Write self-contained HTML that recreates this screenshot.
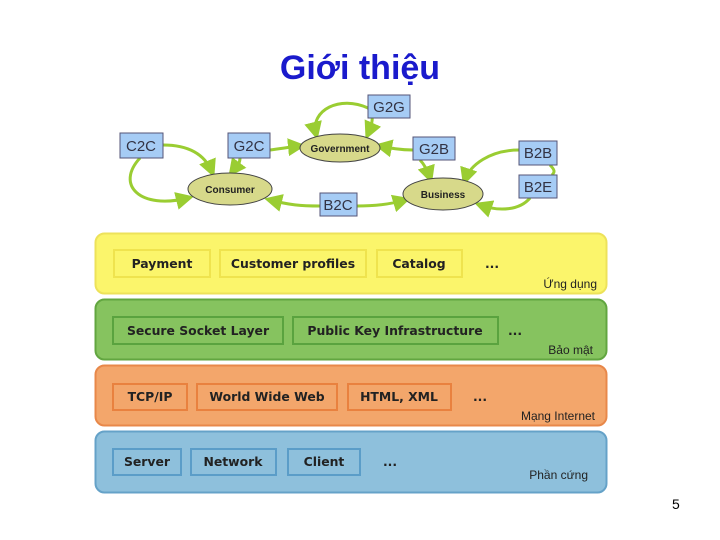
<!DOCTYPE html>
<html><head><meta charset="utf-8"><style>
html,body{margin:0;padding:0;background:#fff;}
svg{display:block;}
.b{font-family:"DejaVu Sans","Liberation Sans",sans-serif;font-weight:bold;font-size:12.4px;fill:#222;}
.s{font-family:"Liberation Sans","DejaVu Sans",sans-serif;font-size:12px;fill:#222;}
.t{font-family:"Liberation Sans",sans-serif;font-size:15px;fill:#334;}
.e{font-family:"Liberation Sans",sans-serif;font-weight:bold;font-size:10px;fill:#222;}
</style></head><body>
<svg width="720" height="540" viewBox="0 0 720 540" xmlns="http://www.w3.org/2000/svg">
<defs><marker id="a" markerWidth="6" markerHeight="6" refX="4" refY="3" orient="auto"><path d="M0,0 L6,3 L0,6z" fill="#9acd32"/></marker></defs>
<text x="360" y="79" text-anchor="middle" font-family="Liberation Sans,sans-serif" font-weight="bold" font-size="34" fill="#1a1acc">Giới thiệu</text>
<g fill="none" stroke="#9acd32" stroke-width="3" marker-end="url(#a)">
<path d="M163,145 C190,145 205,155 212,172"/>
<path d="M140,158 C115,185 140,210 188,198"/>
<path d="M240,158 C240,165 235,168 232,172"/>
<path d="M270,150 C285,148 290,147 300,146"/>
<path d="M368,108 C340,95 310,110 316,134"/>
<path d="M368,108 C375,115 372,125 368,134"/>
<path d="M413,150 C400,150 390,148 380,146"/>
<path d="M420,160 C425,165 428,172 430,178"/>
<path d="M519,150 C490,150 470,165 465,180"/>
<path d="M530,198 C520,210 500,212 480,205"/>
<path d="M320,206 C300,206 290,205 270,200"/>
<path d="M357,206 C380,206 395,203 405,200"/>
</g>
<path d="M550,165 C555,170 555,172 552,175" fill="none" stroke="#9acd32" stroke-width="3"/>
<g fill="#d7d98a" stroke="#444" stroke-width="1">
<ellipse cx="340" cy="148" rx="40" ry="14"/>
<ellipse cx="230" cy="189" rx="42" ry="16"/>
<ellipse cx="443" cy="194" rx="40" ry="16"/>
</g>
<text class="e" x="340" y="152" text-anchor="middle">Government</text>
<text class="e" x="230" y="193" text-anchor="middle">Consumer</text>
<text class="e" x="443" y="198" text-anchor="middle">Business</text>
<g fill="#a6ccf5" stroke="#557" stroke-width="1">
<rect x="368" y="95" width="42" height="23"/>
<rect x="120" y="133" width="43" height="25"/>
<rect x="228" y="133" width="42" height="25"/>
<rect x="413" y="137" width="42" height="23"/>
<rect x="519" y="141" width="38" height="24"/>
<rect x="519" y="175" width="38" height="23"/>
<rect x="320" y="193" width="37" height="23"/>
</g>
<g class="t" text-anchor="middle">
<text x="389" y="112">G2G</text><text x="141" y="151">C2C</text><text x="249" y="151">G2C</text>
<text x="434" y="154">G2B</text><text x="538" y="158">B2B</text><text x="538" y="192">B2E</text><text x="338" y="210">B2C</text>
</g>
<rect x="95.5" y="233.5" width="511" height="60" rx="9" fill="#fbf56b" stroke="#ede25a" stroke-width="2"/>
<rect x="95.5" y="299.5" width="511" height="60" rx="9" fill="#86c35f" stroke="#62a640" stroke-width="2"/>
<rect x="95.5" y="365.5" width="511" height="60" rx="9" fill="#f3a66b" stroke="#e8884a" stroke-width="2"/>
<rect x="95.5" y="431.5" width="511" height="61" rx="9" fill="#8ec0dc" stroke="#65a2c8" stroke-width="2"/>
<g fill="none" stroke-width="2">
<g stroke="#efe34e"><rect x="114" y="250" width="96" height="27"/><rect x="220" y="250" width="146" height="27"/><rect x="377" y="250" width="85" height="27"/></g>
<g stroke="#5aa33f"><rect x="113" y="317" width="170" height="27"/><rect x="293" y="317" width="205" height="27"/></g>
<g stroke="#e9813f"><rect x="113" y="384" width="74" height="26"/><rect x="197" y="384" width="140" height="26"/><rect x="348" y="384" width="103" height="26"/></g>
<g stroke="#5b9dc8"><rect x="113" y="449" width="68" height="26"/><rect x="191" y="449" width="85" height="26"/><rect x="288" y="449" width="72" height="26"/></g>
</g>
<g class="b" text-anchor="middle">
<text x="162" y="268">Payment</text><text x="293" y="268">Customer profiles</text><text x="419" y="268">Catalog</text><text x="492" y="268">...</text>
<text x="198" y="335">Secure Socket Layer</text><text x="395" y="335">Public Key Infrastructure</text><text x="515" y="335">...</text>
<text x="150" y="401">TCP/IP</text><text x="267" y="401">World Wide Web</text><text x="399" y="401">HTML, XML</text><text x="480" y="401">...</text>
<text x="147" y="466">Server</text><text x="233" y="466">Network</text><text x="324" y="466">Client</text><text x="390" y="466">...</text>
</g>
<g class="s" text-anchor="end">
<text x="597" y="288">Ứng dụng</text><text x="593" y="354">Bảo mật</text><text x="595" y="420">Mạng Internet</text><text x="588" y="479">Phần cứng</text>
</g>
<text x="672" y="509" font-family="Liberation Sans,sans-serif" font-size="14" fill="#000">5</text>
</svg>
</body></html>
